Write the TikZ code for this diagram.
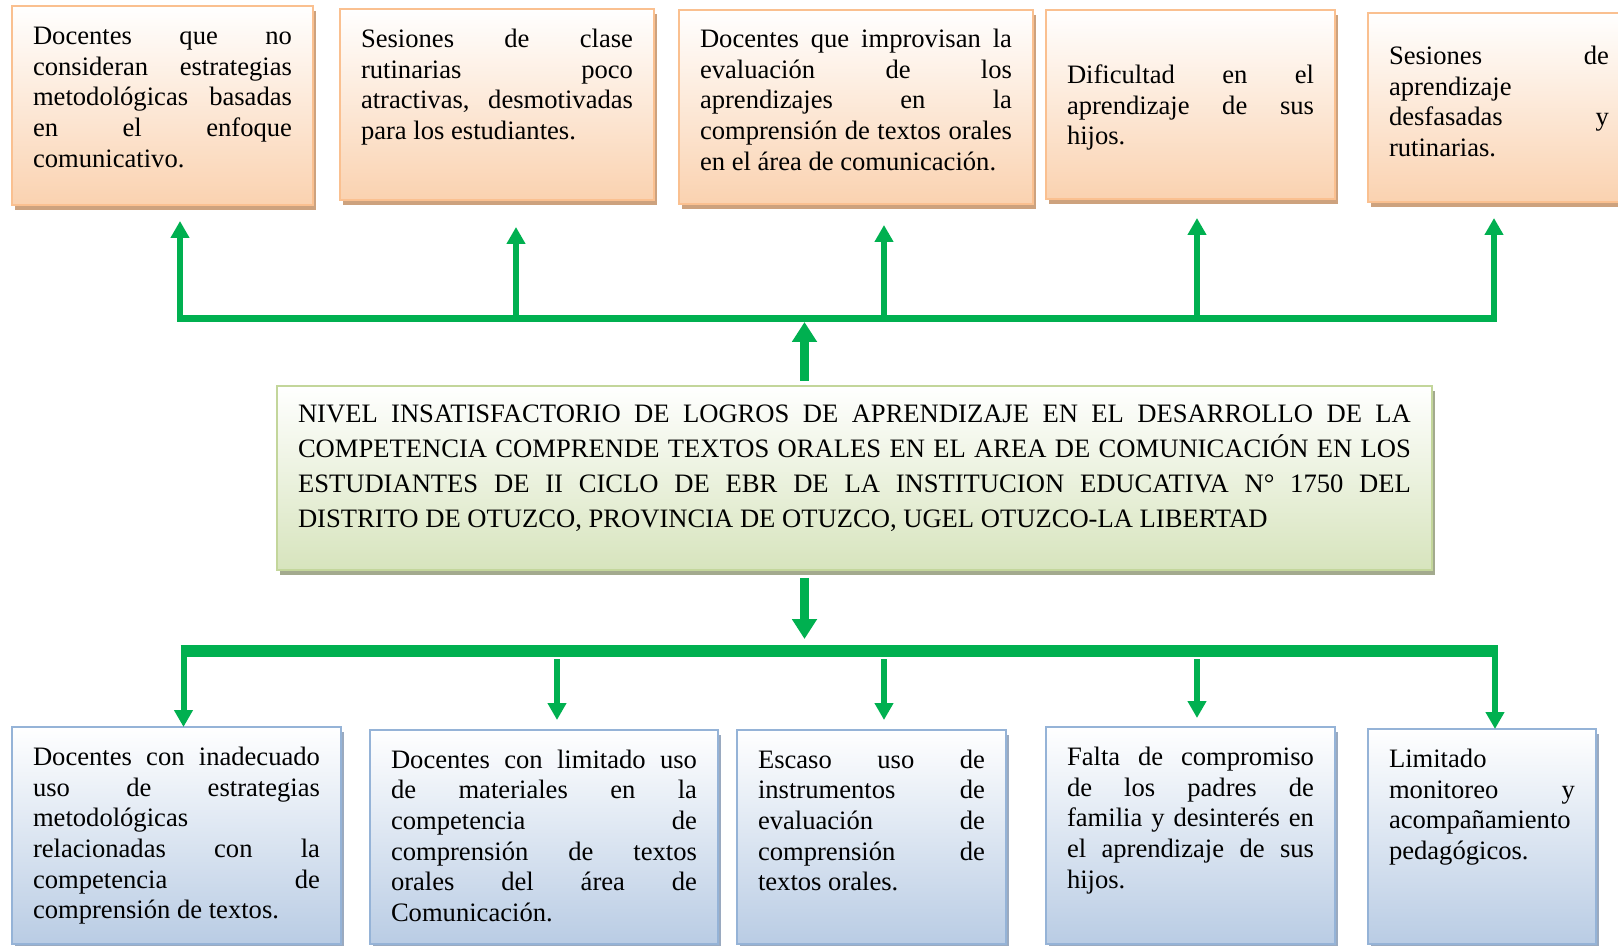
\documentclass[tikz,border=0pt]{standalone}
\usepackage{fontspec}
\setmainfont{Liberation Serif}
\usetikzlibrary{positioning,shadows,arrows.meta}

\definecolor{arrowgreen}{HTML}{00B050}
\definecolor{effectline}{HTML}{FAC090}
\definecolor{effectfill}{HTML}{FAD2B0}
\definecolor{effectshade}{HTML}{CDA27E}
\definecolor{causeline}{HTML}{95B3D7}
\definecolor{causefill}{HTML}{B9CCE4}
\definecolor{causeshade}{HTML}{9AAAC0}
\definecolor{problemline}{HTML}{C3D69B}
\definecolor{problemfill}{HTML}{D7E4BD}
\definecolor{problemshade}{HTML}{A3AA8E}

\tolerance=10000
\hbadness=10000
\vbadness=10000
\hyphenpenalty=10000

\newcommand{\boxtext}[4]{\parbox[c][#1][t]{#2}{\vspace*{#3}\strut#4}}

\begin{document}
\begin{tikzpicture}[
effect/.style={rectangle, draw=effectline, line width=1.2pt, top color=white, bottom color=effectfill, inner xsep=10.5pt, inner ysep=0pt, outer sep=0pt, font=\fontsize{13.3pt}{15.35pt}\selectfont, drop shadow={shadow xshift=1.5pt, shadow yshift=-2.5pt, fill=effectshade, opacity=1}},
cause/.style={rectangle, draw=causeline, line width=1.2pt, top color=white, bottom color=causefill, inner xsep=10.5pt, inner ysep=0pt, outer sep=0pt, font=\fontsize{13.3pt}{15.35pt}\selectfont, drop shadow={shadow xshift=1.5pt, shadow yshift=-2.5pt, fill=causeshade, opacity=1}},
problem/.style={rectangle, draw=problemline, line width=1.2pt, top color=white, bottom color=problemfill, inner xsep=10.5pt, inner ysep=0pt, outer sep=0pt, font=\fontsize{13.3pt}{17.55pt}\selectfont, drop shadow={shadow xshift=1.5pt, shadow yshift=-2.5pt, fill=problemshade, opacity=1}},
link/.style={draw=arrowgreen, line width=3pt, -{Triangle[width=9pt,length=8.5pt]}},
mainlink/.style={draw=arrowgreen, line width=4.25pt, -{Triangle[width=12pt,length=10pt]}},
bar/.style={draw=arrowgreen, line width=3.5pt}
]
\useasboundingbox (0pt,0pt) rectangle (809pt,-473pt);

\node[problem, anchor=north west](problem) at (138.5pt,-193pt){\boxtext{92pt}{556.5pt}{6pt}{NIVEL INSATISFACTORIO DE LOGROS DE APRENDIZAJE EN EL DESARROLLO DE LA\linebreak COMPETENCIA COMPRENDE TEXTOS ORALES EN EL AREA DE COMUNICACIÓN EN LOS\linebreak ESTUDIANTES DE II CICLO DE EBR DE LA INSTITUCION EDUCATIVA N° 1750 DEL\linebreak DISTRITO DE OTUZCO, PROVINCIA DE OTUZCO, UGEL OTUZCO-LA LIBERTAD}};

\node[effect, anchor=north west](eff_1) at (6pt,-3pt){\boxtext{99.5pt}{129.5pt}{8.5pt}{Docentes que no\linebreak consideran estrategias\linebreak metodológicas basadas\linebreak en el enfoque\linebreak comunicativo.}};
\node[effect](eff_2)[right=13.5pt of eff_1.north east, anchor=north west, yshift=-1.5pt]{\boxtext{95.5pt}{136pt}{8.5pt}{Sesiones de clase\linebreak rutinarias poco\linebreak atractivas, desmotivadas\linebreak para los estudiantes.}};
\node[effect](eff_3)[right=12.5pt of eff_2.north east, anchor=north west, yshift=-0.5pt]{\boxtext{97pt}{156pt}{8pt}{Docentes que improvisan la\linebreak evaluación de los\linebreak aprendizajes en la\linebreak comprensión de textos orales\linebreak en el área de comunicación.}};
\node[effect](eff_4)[right=6.5pt of eff_3.north east, anchor=north west]{\boxtext{94.5pt}{123.5pt}{26pt}{Dificultad en el\linebreak aprendizaje de sus\linebreak hijos.}};
\node[effect](eff_5)[right=16.5pt of eff_4.north east, anchor=north west, yshift=-1.5pt]{\boxtext{94.5pt}{110pt}{15pt}{Sesiones de\linebreak aprendizaje\linebreak desfasadas y\linebreak rutinarias.}};

\node[cause, anchor=north west](cau_1) at (6pt,-363.5pt){\boxtext{108.5pt}{143.5pt}{8.5pt}{Docentes con inadecuado\linebreak uso de estrategias\linebreak metodológicas\linebreak relacionadas con la\linebreak competencia de\linebreak comprensión de textos.}};
\node[cause](cau_2)[right=14.5pt of cau_1.north east, anchor=north west, yshift=-1.5pt]{\boxtext{107pt}{153pt}{8.3pt}{Docentes con limitado uso\linebreak de materiales en la\linebreak competencia de\linebreak comprensión de textos\linebreak orales del área de\linebreak Comunicación.}};
\node[cause](cau_3)[right=9.5pt of cau_2.north east, anchor=north west]{\boxtext{107pt}{113.5pt}{8.3pt}{Escaso uso de\linebreak instrumentos de\linebreak evaluación de\linebreak comprensión de\linebreak textos orales.}};
\node[cause](cau_4)[right=20pt of cau_3.north east, anchor=north west, yshift=1.5pt]{\boxtext{108.5pt}{123.5pt}{8.5pt}{Falta de compromiso\linebreak de los padres de\linebreak familia y desinterés en\linebreak el aprendizaje de sus\linebreak hijos.}};
\node[cause](cau_5)[right=16.5pt of cau_4.north east, anchor=north west, yshift=-1pt]{\boxtext{107.5pt}{93pt}{8.5pt}{Limitado\linebreak monitoreo y\linebreak acompañamiento\linebreak pedagógicos.}};

\coordinate (top_l) at (88.5pt,-159.25pt);
\coordinate (top_r) at (748.5pt,-159.25pt);
\coordinate (up_1) at (90pt,-160.5pt);
\coordinate (up_2) at (258pt,-159.25pt);
\coordinate (up_3) at (442pt,-159.25pt);
\coordinate (up_4) at (598.5pt,-159.25pt);
\coordinate (up_5) at (747pt,-160.5pt);
\coordinate (main_up) at (402.25pt,-161pt);
\coordinate (main_down) at (402.25pt,-319.5pt);
\coordinate (bot_l) at (90.25pt,-325.5pt);
\coordinate (bot_r) at (749pt,-325.5pt);
\coordinate (down_1) at (91.75pt,-322.5pt);
\coordinate (down_2) at (278.5pt,-329.5pt);
\coordinate (down_3) at (442pt,-329.5pt);
\coordinate (down_4) at (598.5pt,-329.5pt);
\coordinate (down_5) at (747.5pt,-322.5pt);

\draw[bar] (top_l) -- (top_r);
\draw[link, shorten >=8pt] (up_1) -- (up_1 |- eff_1.south);
\draw[link, shorten >=13.5pt] (up_2) -- (up_2 |- eff_2.south);
\draw[link, shorten >=10.5pt] (up_3) -- (up_3 |- eff_3.south);
\draw[link, shorten >=9.5pt] (up_4) -- (up_4 |- eff_4.south);
\draw[link, shorten >=8pt] (up_5) -- (up_5 |- eff_5.south);
\draw[mainlink, shorten <=2.5pt] (problem.north -| main_up) -- (main_up);

\draw[mainlink, shorten <=4pt] (problem.south -| main_down) -- (main_down);
\draw[bar, line width=6pt] (bot_l) -- (bot_r);
\draw[link] (down_1) -- (down_1 |- cau_1.north);
\draw[link, shorten >=5pt] (down_2) -- (down_2 |- cau_2.north);
\draw[link, shorten >=5pt] (down_3) -- (down_3 |- cau_3.north);
\draw[link, shorten >=4.5pt] (down_4) -- (down_4 |- cau_4.north);
\draw[link] (down_5) -- (down_5 |- cau_5.north);
\end{tikzpicture}
\end{document}
